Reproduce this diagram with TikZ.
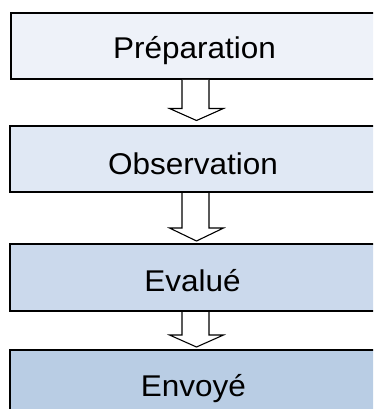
\documentclass[tikz,border=0pt]{standalone}
\usepackage{fontspec}
\setmainfont{Liberation Sans}
\definecolor{fillA}{RGB}{238,242,249}
\definecolor{fillB}{RGB}{224,232,244}
\definecolor{fillC}{RGB}{203,217,236}
\definecolor{fillD}{RGB}{185,205,228}
\tikzset{
  stepbox/.style={draw=black, line width=2pt},
  label30/.style={anchor=base, inner sep=0pt, font=\fontsize{30}{36}\selectfont},
  blockarrow/.style={draw=black, fill=white, line width=1.1pt, line join=miter},
}
\newcommand{\lbl}[1]{\scalebox{1.05}[1]{#1}}
\begin{document}
\begin{tikzpicture}[x=1pt,y=-1pt]
\useasboundingbox (0,0) rectangle (373,409);
\begin{scope}
\clip (0,0) rectangle (373,409);
\draw[stepbox, fill=fillA] (11,13) rectangle (385,79);
\draw[stepbox, fill=fillB] (10,126) rectangle (385,192);
\draw[stepbox, fill=fillC] (10,244) rectangle (385,311);
\draw[stepbox, fill=fillD] (10,350) rectangle (385,430);
\end{scope}
\node[label30] (t1) at (194.5,58.3) {\lbl{Préparation}};
\node[label30] (t2) at (193,174.3) {\lbl{Observation}};
\node[label30] (t3) at (192.5,291.7) {\lbl{Evalué}};
\node[label30] (t4) at (193.4,396.7) {\lbl{Envoyé}};
% arrows
\foreach \top/\base/\tip in {80/108.5/120.5, 193/228/241, 312/335/347}{
  \draw[blockarrow] (182,\top) -- (182,\base) -- (169.5,\base) -- (196.5,\tip)
    -- (223.5,\base) -- (209,\base) -- (209,\top);
}
\end{tikzpicture}
\end{document}
